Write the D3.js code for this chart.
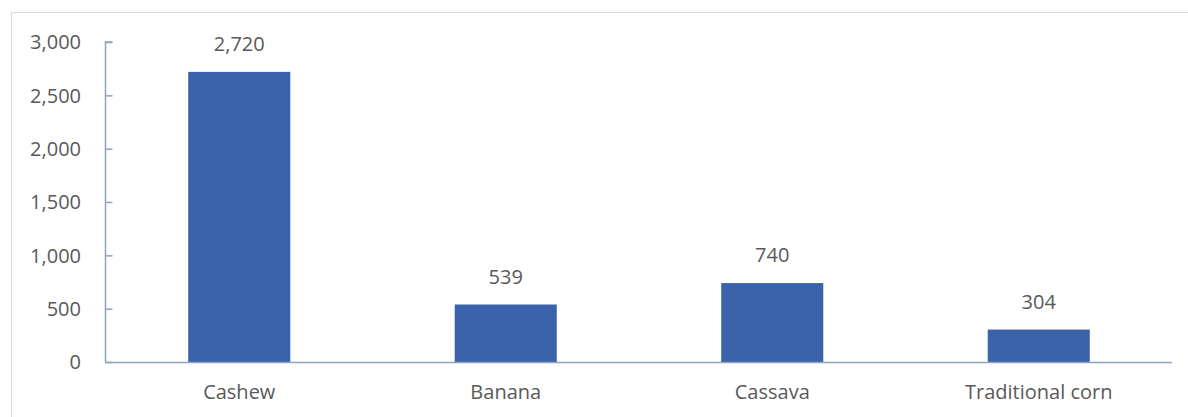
<!DOCTYPE html>
<html><head><meta charset="utf-8">
<script src="https://cdn.jsdelivr.net/npm/d3@7"></script>
<style>body{margin:0;background:#fff}svg{display:block}text{font-family:"Open Sans",sans-serif;fill:#595959}</style>
</head><body><svg id="c" width="1188" height="417"></svg>
<script>
const categories = ["Cashew","Banana","Cassava","Traditional corn"];
const values = [2720,539,740,304];
const yTicks = [0,500,1000,1500,2000,2500,3000];

const svg = d3.select("#c");
const W=1188,H=417;
const m={left:105,right:1172,top:42,bottom:362};
const fs=20;
// outer border
svg.append("rect").attr("x",11.5).attr("y",12.5).attr("width",W+20).attr("height",H+20)
  .attr("fill","none").attr("stroke","#d9d9d9").attr("stroke-width",1);

const x=d3.scaleBand().domain(categories).range([m.left+1,m.right]).paddingInner(0.617).paddingOuter(0.3085);
const y=d3.scaleLinear().domain([0,3000]).range([m.bottom,m.top]);
const axisColor="#8EA3C0";

// bars
svg.selectAll("rect.bar").data(values).join("rect").attr("class","bar")
  .attr("x",(d,i)=>x(categories[i])).attr("width",x.bandwidth())
  .attr("y",d=>y(d)).attr("height",d=>y(0)-y(d)).attr("fill","#3A63AC");

// y axis
const ya=svg.append("g").attr("transform",`translate(${m.left+0.5},0)`)
  .call(d3.axisRight(y).tickValues(yTicks).tickSize(7).tickFormat(""));
ya.selectAll("line,path").attr("stroke",axisColor).attr("stroke-width",1.5);
ya.select("path").attr("d",`M7,${m.top}H0V${m.bottom}`);
svg.append("g").selectAll("text").data(yTicks).join("text")
  .attr("x",81).attr("y",d=>y(d)).attr("dy","0.36em").attr("text-anchor","end")
  .attr("font-size",fs).text(d3.format(","));

// x axis
const xa=svg.append("g").attr("transform",`translate(0,${m.bottom+0.5})`)
  .call(d3.axisBottom(x).tickSize(0).tickPadding(22));
xa.select("path").attr("stroke",axisColor).attr("stroke-width",1.5).attr("d",`M${m.left},0H${m.right}`);
xa.selectAll("text").attr("font-size",fs).attr("font-family","Open Sans").attr("fill","#595959");

// value labels
svg.append("g").selectAll("text").data(values).join("text")
  .attr("x",(d,i)=>x(categories[i])+x.bandwidth()/2).attr("y",d=>y(d)-21)
  .attr("text-anchor","middle").attr("font-size",fs).text(d3.format(","));
</script></body></html>
